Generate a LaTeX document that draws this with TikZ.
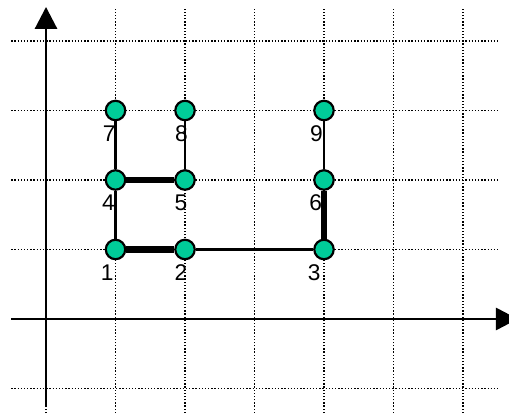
\documentclass[tikz,border=0pt]{standalone}
\usepackage{fontspec}
\setmainfont{Liberation Sans}
\usetikzlibrary{arrows.meta}
\definecolor{ptgreen}{RGB}{0,204,153}

\begin{document}
\begin{tikzpicture}[
    pt/.style={circle, draw=black, line width=0.9pt, fill=ptgreen, minimum size=0.28cm, inner sep=0pt},
    num/.style={font=\fontsize{9.3}{11}\selectfont, inner sep=0pt},
    gridline/.style={line width=0.55pt, dash pattern=on 0.55pt off 0.75pt},
    axis/.style={line width=1.2pt, -{Triangle[length=9pt,width=9pt]}},
    link/.style={line width=0.9pt},
    heavy/.style={line width=2.8pt}
]
    \useasboundingbox (-0.662,-1.367) rectangle (6.662,4.590);

    % dotted grid
    \foreach \x in {0,...,6}
        \draw[gridline] (\x,-1.4) -- (\x,4.46);
    \foreach \y in {-1,...,4}
        \draw[gridline] (-0.5,\y) -- (6.5,\y);

    % axes
    \coordinate (xfrom) at (-0.5,0);
    \coordinate (xto) at (6.79,0);
    \coordinate (yfrom) at (0,-1.24);
    \coordinate (yto) at (0,4.49);
    \draw[axis] (xfrom) -- (xto);
    \draw[axis] (yfrom) -- (yto);

    % points and their numbers
    \foreach \n/\x/\y/\dx in {1/1/1/-0.12, 2/2/1/-0.06, 3/4/1/-0.14,
                              4/1/2/-0.10, 5/2/2/-0.06, 6/4/2/-0.12,
                              7/1/3/-0.09, 8/2/3/-0.05, 9/4/3/-0.11} {
        \node[pt] (p\n) at (\x,\y) {};
        \node[num] (l\n) at (\x+\dx,\y-0.33) {\n};
    }

    % links
    \draw[link] (p7) -- (p4);
    \draw[link] (p4) -- (p1);
    \draw[link] (p8) -- (p5);
    \draw[link] (p2) -- (p3);
    \draw[link] (p9) -- (p6);
    \draw[heavy] (p1) -- (p2);
    \draw[heavy] (p4) -- (p5);
    \draw[heavy] (p6) -- (p3);
\end{tikzpicture}
\end{document}
